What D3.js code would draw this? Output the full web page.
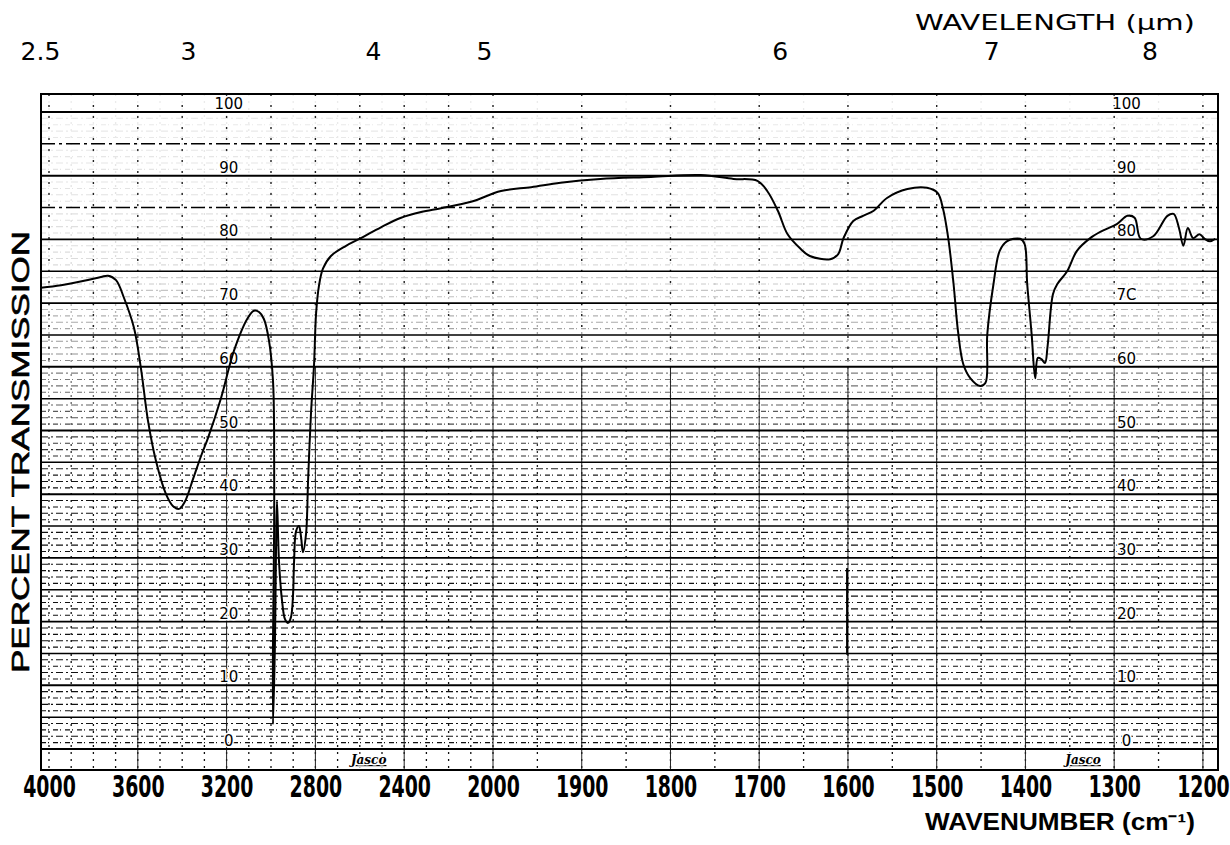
<!DOCTYPE html>
<html>
<head>
<meta charset="utf-8">
<script src="https://cdn.jsdelivr.net/npm/d3@7"></script>
<style>
  html, body { margin: 0; padding: 0; background: #fff; }
  svg { display: block; }
</style>
</head>
<body>
<svg id="chart" width="1230" height="845"></svg>
<script>
// IR spectrum: wavenumber (cm-1) vs percent transmission
const wavenumbers = [
  4036, 3946, 3842, 3766, 3734, 3698, 3662, 3617, 3586, 3554,
  3518, 3473, 3441, 3414, 3387, 3351, 3315, 3284, 3225, 3167,
  3104, 3077, 3054, 3032, 3009, 2991, 2986, 2986, 2991, 2991,
  2982, 2977, 2973, 2964, 2950, 2937, 2923, 2910, 2901, 2896,
  2887, 2874, 2865, 2856, 2842, 2833, 2820, 2806, 2797, 2784,
  2766, 2730, 2662, 2595, 2505, 2414, 2324, 2234, 2099, 1991,
  1957, 1924, 1879, 1822, 1766, 1729, 1702, 1691, 1679, 1668,
  1654, 1643, 1620, 1611, 1605, 1594, 1583, 1571, 1556, 1533,
  1511, 1499, 1493, 1487, 1481, 1476, 1470, 1462, 1451, 1445,
  1443, 1436, 1429, 1421, 1406, 1401, 1398, 1393, 1389, 1386,
  1382, 1378, 1375, 1369, 1364, 1353, 1342, 1327, 1314, 1297,
  1285, 1277, 1270, 1256, 1240, 1233, 1227, 1222, 1217, 1211,
  1204, 1198, 1192, 1186
];
const transmission = [
  72.4, 72.8, 73.5, 74.1, 74.3, 73.6, 70.8, 66.1, 59.8, 51.5,
  45.2, 40.0, 38.1, 37.7, 38.9, 42.4, 46.0, 48.8, 55.1, 62.5,
  67.7, 68.8, 68.6, 67.5, 64.1, 57.8, 49.9, 34.2, 17.0, 3.9,
  17.0, 32.7, 38.9, 29.5, 23.2, 20.4, 19.8, 20.7, 24.0, 29.5,
  34.2, 35.0, 33.4, 30.9, 33.8, 42.1, 52.6, 60.4, 68.3, 72.7,
  75.4, 77.4, 79.0, 80.2, 81.9, 83.4, 84.3, 84.9, 85.9, 87.6,
  88.2, 88.9, 89.5, 89.8, 90.1, 89.5, 89.2, 87.6, 84.5, 80.8,
  78.6, 77.4, 76.9, 77.7, 80.2, 82.9, 83.7, 84.5, 86.5, 87.9,
  88.1, 87.3, 84.9, 80.2, 73.0, 65.6, 60.4, 58.2, 57.0, 57.5,
  65.1, 73.0, 78.2, 79.7, 80.1, 79.3, 73.0, 65.1, 58.2, 61.4,
  61.2, 60.6, 63.3, 71.4, 73.0, 75.0, 78.2, 80.2, 81.3, 82.4,
  83.7, 83.4, 80.1, 80.5, 83.7, 84.0, 81.8, 79.0, 81.8, 80.2,
  80.8, 80.1, 79.7, 80.1
];

// calibration pen mark (polystyrene 1601 cm-1)
const calibWavenumbers = [1601];
const calibFrom = [28.4];
const calibTo = [14.8];

// axis ticks
const wavenumberTicks = [4000, 3600, 3200, 2800, 2400, 2000, 1900, 1800, 1700, 1600, 1500, 1400, 1300, 1200];
const wavelengthTicks = [2.5, 3, 4, 5, 6, 7, 8];
const wavelengthLabels = ["2.5", "3", "4", "5", "6", "7", "8"];
const percentTicks = [0, 10, 20, 30, 40, 50, 60, 70, 80, 90, 100];
const percentLabelsRight = ["0", "10", "20", "30", "40", "50", "60", "7C", "80", "90", "100"];
const percentLabelsLeft = ["0", "10", "20", "30", "40", "50", "60", "70", "80", "90", "100"];

const svg = d3.select("#chart");

// the chart paper is compressed 4000-2000 and expanded 2000-1200
const x = d3.scaleLinear().domain([4036, 2000, 1183]).range([41, 493, 1218]);
const y = d3.scaleLinear().domain([0, 100]).range([749, 112]);

const plotLeft = x(4036), plotRight = x(1183);
const plotTop = y(100) - 18, plotBottom = y(0) + 21;

// fade mask: fine grid printed faint at the top, dense in the lower half
const defs = svg.append("defs");
const grad = defs.append("linearGradient").attr("id", "fade")
  .attr("x1", 0).attr("y1", 0).attr("x2", 0).attr("y2", 1);
grad.append("stop").attr("offset", "0%").attr("stop-color", "#fff").attr("stop-opacity", 0.08);
grad.append("stop").attr("offset", "25%").attr("stop-color", "#fff").attr("stop-opacity", 0.15);
grad.append("stop").attr("offset", "40%").attr("stop-color", "#fff").attr("stop-opacity", 0.5);
grad.append("stop").attr("offset", "58%").attr("stop-color", "#fff").attr("stop-opacity", 1);
grad.append("stop").attr("offset", "100%").attr("stop-color", "#fff").attr("stop-opacity", 1);
defs.append("mask").attr("id", "gridMask")
  .attr("maskUnits", "userSpaceOnUse")
  .attr("x", plotLeft).attr("y", plotTop).attr("width", plotRight - plotLeft).attr("height", plotBottom - plotTop)
  .append("rect").attr("x", plotLeft).attr("y", plotTop).attr("width", plotRight - plotLeft).attr("height", plotBottom - plotTop)
  .attr("fill", "url(#fade)");

const minor = svg.append("g").attr("mask", "url(#gridMask)");

// minor horizontal rulings every 1 %
const minorPct = d3.range(1, 100).filter(v => v % 5 !== 0);
minor.selectAll("line.mh").data(minorPct).join("line")
  .attr("x1", plotLeft).attr("x2", plotRight)
  .attr("y1", d => y(d)).attr("y2", d => y(d))
  .attr("stroke", "#111").attr("stroke-width", 1.1)
  .attr("stroke-dasharray", (d, i) => i % 2 ? "7,3,2,3" : "5,2,1,4");

// minor vertical rulings
const minorWn = d3.range(4000, 2000, -100).concat(d3.range(2000, 1180, -50));
minor.selectAll("line.mv").data(minorWn).join("line")
  .attr("x1", d => x(d)).attr("x2", d => x(d))
  .attr("y1", plotTop).attr("y2", plotBottom)
  .attr("stroke", "#111").attr("stroke-width", 1.3)
  .attr("stroke-dasharray", "2,5");

// sparse dotted verticals that stay visible in the light upper band
svg.append("g").selectAll("line").data(minorWn.filter((d, i) => i % 2 === 0)).join("line")
  .attr("x1", d => x(d)).attr("x2", d => x(d))
  .attr("y1", plotTop).attr("y2", y(60))
  .attr("stroke", "#222").attr("stroke-width", 1.4)
  .attr("stroke-dasharray", "2,9");

// major vertical rulings at the labelled wavenumbers
svg.append("g").selectAll("line").data(wavenumberTicks.filter(d => d !== 4000)).join("line")
  .attr("x1", d => x(d)).attr("x2", d => x(d))
  .attr("y1", y(60)).attr("y2", plotBottom)
  .attr("stroke", "#222").attr("stroke-width", 1);

// major horizontal rulings every 5 %
const majorPct = d3.range(0, 101, 5);
svg.append("g").selectAll("line").data(majorPct).join("line")
  .attr("x1", plotLeft).attr("x2", plotRight)
  .attr("y1", d => y(d)).attr("y2", d => y(d))
  .attr("stroke", "#000")
  .attr("stroke-width", d => d % 10 === 0 ? 1.9 : 1.5)
  .attr("stroke-dasharray", d => (d % 10 !== 0 && d > 77) ? "14,4,3,4" : null);

// frame
svg.append("rect")
  .attr("x", plotLeft).attr("y", plotTop).attr("width", plotRight - plotLeft).attr("height", plotBottom - plotTop)
  .attr("fill", "none").attr("stroke", "#000").attr("stroke-width", 2);

// percent labels on the rulings
const pctFont = "'DejaVu Sans', sans-serif";
function pctLabels(xPos, labels) {
  svg.append("g").selectAll("text").data(percentTicks).join("text")
    .attr("x", xPos).attr("y", d => y(d) - 3)
    .attr("text-anchor", "middle")
    .attr("font-family", pctFont).attr("font-size", 15)
    .attr("fill", "#000")
    .attr("stroke", "#fff").attr("stroke-width", 3).attr("paint-order", "stroke")
    .text((d, i) => labels[i]);
}
pctLabels(x(3190), percentLabelsLeft);
pctLabels(x(1286), percentLabelsRight);

// calibration mark
svg.append("g").selectAll("line").data(calibWavenumbers).join("line")
  .attr("x1", d => x(d)).attr("x2", d => x(d))
  .attr("y1", (d, i) => y(calibFrom[i])).attr("y2", (d, i) => y(calibTo[i]))
  .attr("stroke", "#000").attr("stroke-width", 2);

// spectrum trace
const pts = wavenumbers.map((w, i) => [w, transmission[i]]);
const line = d3.line().x(d => x(d[0])).y(d => y(d[1])).curve(d3.curveCatmullRom.alpha(0.5));
svg.append("path").datum(pts)
  .attr("d", line)
  .attr("fill", "none").attr("stroke", "#000").attr("stroke-width", 2)
  .attr("stroke-linejoin", "round");

// bottom axis: wavenumber (tall condensed digits)
const bottomAxis = d3.axisBottom(x).tickValues(wavenumberTicks).tickSize(0).tickPadding(0).tickFormat(d3.format("d"));
const gb = svg.append("g").attr("transform", `translate(0,${plotBottom + 27})`).call(bottomAxis);
gb.select(".domain").remove();
gb.selectAll("text")
  .attr("y", 0).attr("dy", 0)
  .attr("font-family", "'Liberation Sans Narrow', 'DejaVu Sans Condensed', sans-serif")
  .attr("font-weight", "bold").attr("font-size", 21).attr("fill", "#000")
  .attr("transform", "scale(1,1.4)");

// top axis: wavelength in micrometres
const topAxis = d3.axisTop(x).tickValues(wavelengthTicks.map(l => 1e4 / l))
  .tickSize(0).tickPadding(0).tickFormat((d, i) => wavelengthLabels[i]);
const gt = svg.append("g").attr("transform", `translate(-9,${plotTop - 34})`).call(topAxis);
gt.select(".domain").remove();
gt.selectAll("text")
  .attr("dy", 0)
  .attr("font-family", "'DejaVu Sans', sans-serif")
  .attr("font-size", 25).attr("fill", "#000");

// axis titles
svg.append("text")
  .attr("x", 1195).attr("y", 30).attr("text-anchor", "end")
  .attr("font-family", "'DejaVu Sans', sans-serif").attr("font-size", 21)
  .attr("textLength", 280).attr("lengthAdjust", "spacingAndGlyphs")
  .text("WAVELENGTH (μm)");

svg.append("text")
  .attr("x", 1195).attr("y", 830).attr("text-anchor", "end")
  .attr("font-family", "'Liberation Sans', sans-serif").attr("font-weight", "bold").attr("font-size", 23)
  .attr("textLength", 270).attr("lengthAdjust", "spacingAndGlyphs")
  .text("WAVENUMBER (cm⁻¹)");

svg.append("text")
  .attr("transform", `translate(29,452) rotate(-90)`)
  .attr("text-anchor", "middle")
  .attr("font-family", "'Liberation Sans', sans-serif").attr("font-size", 24)
  .attr("stroke", "#000").attr("stroke-width", 0.6)
  .attr("textLength", 442).attr("lengthAdjust", "spacingAndGlyphs")
  .text("PERCENT TRANSMISSION");

// chart maker's signature
[2560, 1335].forEach(w => {
  svg.append("text")
    .attr("x", x(w)).attr("y", plotBottom - 6).attr("text-anchor", "middle")
    .attr("font-family", "'DejaVu Serif', serif").attr("font-style", "italic").attr("font-weight", "bold")
    .attr("font-size", 12).attr("text-decoration", "underline")
    .attr("stroke", "#fff").attr("stroke-width", 3).attr("paint-order", "stroke")
    .text("Jasco");
});
</script>
</body>
</html>
